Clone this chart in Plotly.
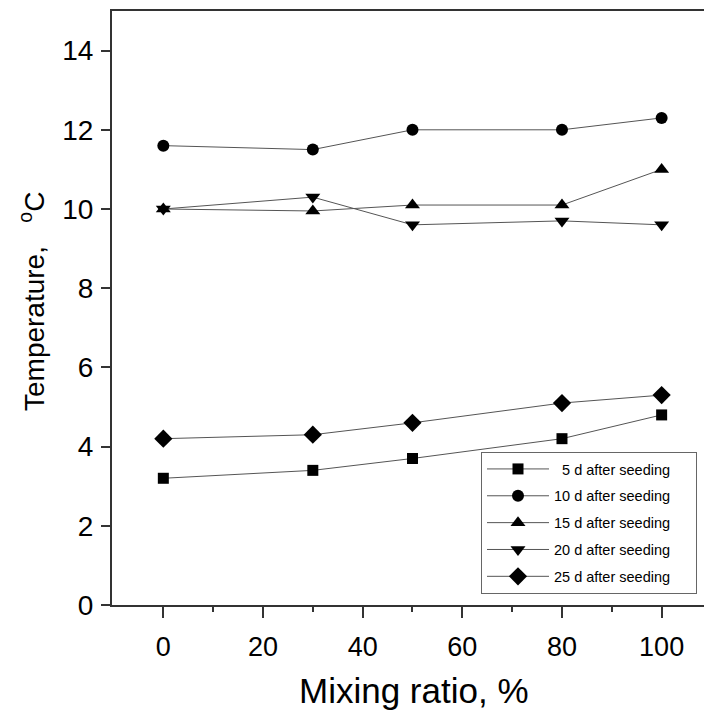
import plotly.graph_objects as go

mixing_ratio = [0, 30, 50, 80, 100]
d5 = [3.2, 3.4, 3.7, 4.2, 4.8]
d10 = [11.6, 11.5, 12.0, 12.0, 12.3]
d15 = [10.0, 9.95, 10.1, 10.1, 11.0]
d20 = [10.0, 10.3, 9.6, 9.7, 9.6]
d25 = [4.2, 4.3, 4.6, 5.1, 5.3]

PAD = "\u00a0" * 5
series = [
    ("\u20075 d after seeding" + PAD, d5, "square", 11),
    ("10 d after seeding" + PAD, d10, "circle", 12),
    ("15 d after seeding" + PAD, d15, "triangle-up", 13),
    ("20 d after seeding" + PAD, d20, "triangle-down", 13),
    ("25 d after seeding" + PAD, d25, "diamond", 14),
]

FONT = "Liberation Sans, Arial, sans-serif"

fig = go.Figure()
for i, (name, vals, sym, sz) in enumerate(series):
    fig.add_trace(go.Scatter(
        x=mixing_ratio, y=vals, name=name, mode="lines+markers",
        legendgroup=f"g{i}",
        line=dict(color="#555555", width=1),
        marker=dict(symbol=sym, size=sz, color="black", line=dict(width=0)),
    ))

fig.update_layout(
    width=704, height=718,
    margin=dict(l=112, r=0, t=11, b=113),
    paper_bgcolor="white", plot_bgcolor="white",
    font=dict(family=FONT, color="black", size=27),
    showlegend=True,
    legend=dict(
        x=(697 - 112) / 592, xanchor="right", y=(605 - 594) / 594, yanchor="bottom",
        bordercolor="#666666", borderwidth=1, bgcolor="white",
        font=dict(family=FONT, size=14.5, color="black"),
        tracegroupgap=5, traceorder="grouped", itemwidth=62,
    ),
    xaxis=dict(
        range=[-10.3, 108.5], tickmode="array",
        tickvals=[0, 20, 40, 60, 80, 100],
        showline=True, linecolor="#333333", linewidth=2, mirror=True,
        ticks="outside", ticklen=11, tickwidth=2, tickcolor="#333333",
        minor=dict(tickmode="array", tickvals=[10, 30, 50, 70, 90],
                   ticks="outside", ticklen=5, tickwidth=2, tickcolor="#333333"),
        showgrid=False, zeroline=False, automargin=False,
        tickfont=dict(size=27), ticklabelstandoff=6,
    ),
    yaxis=dict(
        range=[0, 15], tickmode="array", tickvals=[0, 2, 4, 6, 8, 10, 12, 14],
        showline=True, linecolor="#333333", linewidth=2,
        ticks="outside", ticklen=9, tickwidth=2, tickcolor="#333333",
        showgrid=False, zeroline=False, automargin=False,
        tickfont=dict(size=28), ticklabelstandoff=2,
    ),
    annotations=[
        dict(text="Mixing ratio, %", xref="paper", yref="paper",
             x=(414 - 112) / 592, y=-(690 - 605) / 594, xanchor="center", yanchor="middle",
             showarrow=False, font=dict(size=35)),
        dict(text="Temperature,\u00a0\u00a0\u00a0<sup>o</sup>C", xref="paper", yref="paper",
             x=-(112 - 32) / 592, y=(605 - 302) / 594, xanchor="center", yanchor="middle",
             textangle=-90, showarrow=False, font=dict(size=28)),
    ],
)

fig.write_html("out.html", config={"displayModeBar": False},
               post_script="document.body.style.margin='0px';")
